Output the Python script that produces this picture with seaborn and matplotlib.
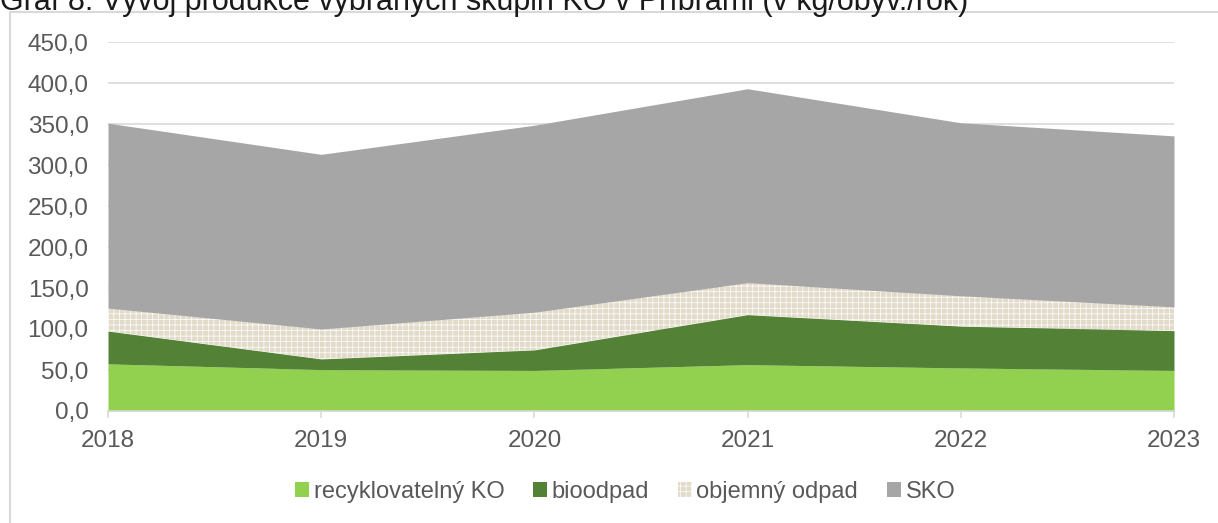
import matplotlib
matplotlib.use("Agg")
import matplotlib.pyplot as plt
import matplotlib.patches as mpatches
import matplotlib.ticker as mticker
import seaborn as sns

years = [2018, 2019, 2020, 2021, 2022, 2023]
series_names = ["recyklovatelný KO", "bioodpad", "objemný odpad", "SKO"]
recyklovatelny = [57.5, 50.5, 49.5, 56.5, 52.5, 49.5]
bioodpad = [40.0, 13.0, 25.0, 61.0, 51.0, 48.5]
objemny = [28.0, 36.5, 46.0, 39.0, 37.0, 29.0]
sko = [225.5, 213.0, 228.0, 236.5, 211.0, 208.5]
colors = ["#92d050", "#538135", "#e3dbca", "#a6a6a6"]

sns.set_style("white")
plt.rcParams["font.family"] = ["Liberation Sans", "DejaVu Sans"]
plt.rcParams["hatch.color"] = "#cdc2ad"
plt.rcParams["hatch.linewidth"] = 0.5
text_col = "#595959"

fig = plt.figure(figsize=(12.18, 5.23), dpi=100)
ax = fig.add_axes([108 / 1218, 1 - 411 / 523, (1174 - 108) / 1218, (411 - 42) / 523])

polys = ax.stackplot(years, recyklovatelny, bioodpad, objemny, sko,
                     colors=colors, labels=series_names, linewidth=0)
polys[2].set_hatch("+++")

ax.set_xlim(2018, 2023)
ax.set_ylim(0, 450)
ax.set_xticks(years)
ax.set_yticks(range(0, 451, 50))
ax.yaxis.set_major_formatter(mticker.FuncFormatter(lambda v, p: f"{v:.1f}".replace(".", ",")))
ax.grid(axis="y", color="#d9d9d9", linewidth=1.2, zorder=0)
ax.set_axisbelow(True)
for s in ["top", "right", "left"]:
    ax.spines[s].set_visible(False)
ax.spines["bottom"].set_color("#d9d9d9")
ax.spines["bottom"].set_linewidth(1.2)
ax.tick_params(axis="x", length=5, color="#d9d9d9", width=1.2, pad=9,
               labelsize=17.5, labelcolor=text_col, bottom=True)
ax.tick_params(axis="y", length=0, pad=14, labelsize=17.5, labelcolor=text_col)

# chart frame
fig.patches.append(mpatches.Rectangle((10 / 1218, -0.01), 1.0, 1 - 12 / 523 + 0.01,
                                      transform=fig.transFigure, fill=False,
                                      edgecolor="#d9d9d9", linewidth=1.5))

# title, partly cut by the top edge as in the source
fig.text(0.0, 1 - 10 / 523, "Graf 8: Vývoj produkce vybraných skupin KO v Příbrami (v kg/obyv./rok)",
         fontsize=22, color="#1a1a1a", va="baseline", ha="left")

handles = [mpatches.Patch(facecolor=c, hatch=("+++" if i == 2 else None), linewidth=0)
           for i, c in enumerate(colors)]
fig.legend(handles, series_names, loc="center", bbox_to_anchor=(625 / 1218, 1 - 492 / 523),
           ncol=4, frameon=False, fontsize=17, labelcolor=text_col,
           handlelength=0.6, handleheight=0.6, handletextpad=0.2, columnspacing=1.2)

fig.savefig("out.png", dpi=100)
